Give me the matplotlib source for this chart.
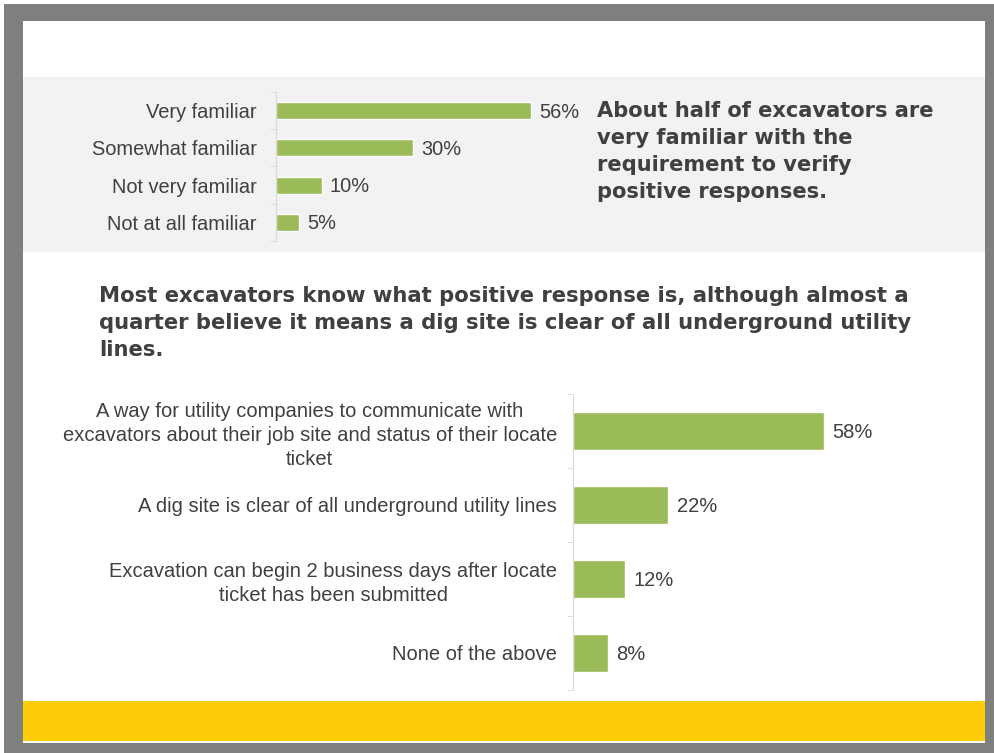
import matplotlib.pyplot as plt
from matplotlib.patches import Rectangle

# Dữ liệu
fam_labels = ['Very familiar', 'Somewhat familiar', 'Not very familiar', 'Not at all familiar']
fam_values = [56, 30, 10, 5]

pr_labels = ['A way for utility companies to communicate with\nexcavators about their job site and status of their locate\nticket',
             'A dig site is clear of all underground utility lines',
             'Excavation can begin 2 business days after locate\nticket has been submitted',
             'None of the above']
pr_values = [58, 22, 12, 8]

title_top = 'About half of excavators are\nvery familiar with the\nrequirement to verify\npositive responses.'
title_mid = ('Most excavators know what positive response is, although almost a\n'
             'quarter believe it means a dig site is clear of all underground utility\n'
             'lines.')

W, H = 994, 753
green = '#9bbb59'
text_col = '#404040'
font = 'Liberation Sans'

fig = plt.figure(figsize=(W / 100, H / 100), dpi=100)
fig.patch.set_facecolor('white')


# chuyển pixel -> toạ độ figure
def box(x0, y0, x1, y1):
    return [x0 / W, 1 - y1 / H, (x1 - x0) / W, (y1 - y0) / H]


def rect(x0, y0, x1, y1, color):
    b = box(x0, y0, x1, y1)
    fig.patches.append(Rectangle((b[0], b[1]), b[2], b[3], transform=fig.transFigure,
                                 facecolor=color, edgecolor='none', zorder=-5))


# khung
rect(4, 4, 994, 753, '#7f7f7f')
rect(23, 21, 985, 743, 'white')
rect(23, 77, 985, 252, '#f2f2f2')
rect(23, 701, 985, 741, '#fecc09')


def draw_bars(ax, labels, values, xmax, bar_h, fs, pad):
    y = list(range(len(labels)))
    ax.barh(y, values, height=bar_h, color=green, edgecolor='white', linewidth=1)
    ax.set_xlim(0, xmax)
    ax.set_ylim(len(labels) - 0.5, -0.5)
    ax.set_yticks(y)
    ax.set_yticklabels(labels, fontsize=fs, color=text_col, family=font,
                       multialignment='center', linespacing=1.35)
    ax.set_yticks([i + 0.5 for i in range(-1, len(labels))], minor=True)
    ax.tick_params(axis='y', which='major', length=0, pad=pad)
    ax.tick_params(axis='y', which='minor', length=4, color='#d9d9d9')
    ax.set_xticks([])
    for s in ['top', 'right', 'bottom']:
        ax.spines[s].set_visible(False)
    ax.spines['left'].set_color('#d9d9d9')
    ax.patch.set_alpha(0)
    for i, v in enumerate(values):
        ax.annotate(f'{v}%', (v, i), xytext=(6, -1), textcoords='offset points',
                    va='center', ha='left', fontsize=fs, color=text_col, family=font)


ax1 = fig.add_axes(box(276, 92, 276 + 455, 241))
draw_bars(ax1, fam_labels, fam_values, 100, 0.46, 14.4, 14)

ax2 = fig.add_axes(box(573, 394, 573 + 433, 690))
draw_bars(ax2, pr_labels, pr_values, 100, 0.52, 14.5, 11.5)

fig.text(597 / W, 1 - 101 / H, title_top, ha='left', va='top', fontsize=15.1, fontweight='bold',
         color=text_col, family='DejaVu Sans', linespacing=1.43)
fig.text(99 / W, 1 - 286 / H, title_mid, ha='left', va='top', fontsize=15.2, fontweight='bold',
         color=text_col, family='DejaVu Sans', linespacing=1.43)

fig.savefig('out.png', dpi=100)
